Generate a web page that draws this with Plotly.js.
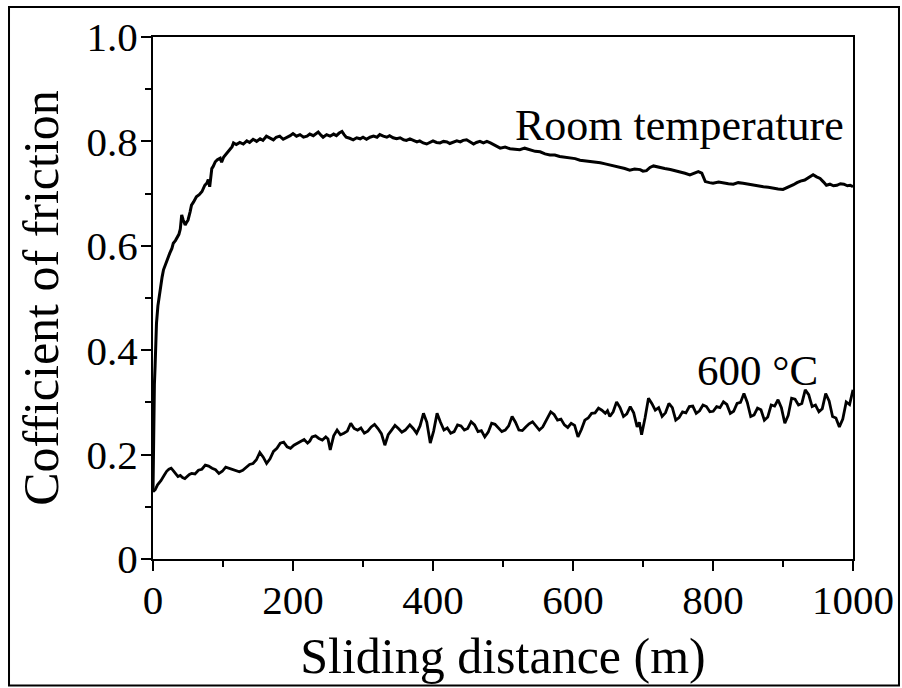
<!DOCTYPE html>
<html>
<head>
<meta charset="utf-8">
<script src="https://cdn.plot.ly/plotly-3.0.1.min.js"></script>
<style>
html,body{margin:0;padding:0;background:#fff;}
#chart{width:902px;height:688px;}
</style>
</head>
<body>
<div id="chart"></div>
<script>
// Room temperature series (sliding distance in m, coefficient of friction)
const rtDistance = [0,1,2,3,4,5,7,10,13,15,18,20,22,24,27,29,32,34,37,39,41,43,46,48,50,53,55,58,62,66,70,74,77,79,81,84,86,89,92,96,98,101,105,108,110,113,115,119,124,129,134,138,143,148,153,157,162,167,172,176,181,186,191,196,200,205,210,215,220,224,229,233,236,240,243,248,253,258,262,266,270,273,276,281,286,291,296,300,305,310,315,320,324,329,334,338,343,348,353,358,362,367,372,377,381,386,391,396,400,405,410,415,420,424,429,434,439,443,448,453,458,462,467,472,477,482,487,491,496,503,510,517,524,531,539,546,553,560,567,574,581,588,596,603,610,617,624,631,639,646,653,660,667,674,681,688,696,700,705,710,715,720,724,731,739,746,753,760,767,773,779,784,787,789,795,800,808,815,822,829,836,843,850,858,865,872,879,886,893,900,905,910,915,920,925,931,937,943,948,953,958,962,967,972,977,982,987,992,996,1000];
const rtCof = [0.130,0.280,0.335,0.370,0.420,0.452,0.485,0.515,0.540,0.554,0.566,0.573,0.578,0.586,0.595,0.605,0.610,0.615,0.622,0.632,0.659,0.650,0.640,0.645,0.649,0.665,0.678,0.684,0.694,0.698,0.704,0.716,0.720,0.727,0.713,0.748,0.752,0.761,0.765,0.768,0.760,0.770,0.777,0.780,0.784,0.790,0.797,0.794,0.798,0.795,0.801,0.798,0.804,0.800,0.805,0.802,0.810,0.806,0.803,0.808,0.810,0.804,0.807,0.811,0.815,0.810,0.813,0.808,0.810,0.814,0.811,0.816,0.818,0.812,0.808,0.813,0.810,0.814,0.811,0.816,0.819,0.813,0.808,0.806,0.803,0.807,0.805,0.808,0.804,0.808,0.810,0.808,0.813,0.810,0.808,0.811,0.807,0.805,0.807,0.803,0.802,0.805,0.802,0.799,0.801,0.797,0.795,0.799,0.801,0.798,0.797,0.800,0.799,0.796,0.798,0.801,0.799,0.802,0.803,0.799,0.795,0.798,0.800,0.797,0.800,0.797,0.793,0.790,0.787,0.789,0.786,0.785,0.784,0.787,0.783,0.781,0.780,0.776,0.774,0.774,0.771,0.770,0.768,0.767,0.764,0.763,0.761,0.761,0.759,0.757,0.755,0.752,0.750,0.748,0.745,0.747,0.746,0.743,0.744,0.750,0.753,0.751,0.750,0.748,0.746,0.744,0.742,0.739,0.736,0.739,0.742,0.739,0.730,0.723,0.721,0.720,0.722,0.720,0.719,0.718,0.721,0.720,0.718,0.716,0.715,0.713,0.712,0.710,0.709,0.708,0.711,0.713,0.717,0.721,0.724,0.726,0.731,0.736,0.732,0.729,0.722,0.716,0.718,0.715,0.716,0.719,0.718,0.715,0.716,0.713];

// 600 °C series
const hotDistance = [0,3.2,6.5,11.3,16.2,19.5,22.7,26,29.2,32.5,35.7,39,42.2,45.5,48.7,52,55.2,60,64.9,69.8,74.7,79.5,84.4,89.3,94.2,99,103.9,108.8,113.6,118.5,123.4,128.2,133.1,138,142.9,147.7,152.6,157.5,162.3,167.2,172.1,177,181.8,186.7,191.6,196.4,201.3,206.1,211,215.9,220.8,224,227.3,232.1,237,241.9,246.8,250,253.2,258.1,263,267.8,272.7,277.6,282.5,287.3,292.2,297,301.9,306.8,311.7,316.5,321.4,326.3,331.2,336,340.9,345.7,350.6,355.5,360.4,363.6,366.9,371.7,376.6,381.5,386.4,391.2,396.1,400.9,405.8,410.7,415.6,420.4,425.3,430.2,435.1,440,444.8,449.6,454.5,459.4,464.3,469.1,474,478.9,483.8,488.6,493.5,498.3,503.2,508.1,513,517.8,522.7,527.6,532.5,537.3,542.2,547,551.9,556.8,561.7,565,568.2,573,577.9,582.8,587.7,592.5,597.4,602.3,607.1,612,616.9,621.7,626.6,631.5,636.4,641.2,646.1,649.3,652.6,657.4,662.3,667.2,672.1,676.9,681.8,686.7,691.6,694.8,698,702.9,707.8,712.6,717.5,722.4,727.3,732.1,737,741.9,746.8,751.6,756.5,761.3,766.2,771.1,776,780.8,785.7,790.6,795.5,800.3,805.2,810,814.9,819.8,824.7,829.5,834.4,839.3,844.2,849,853.9,858.7,863.6,868.5,873.4,878.2,883.1,888,892.9,897.7,902.6,907.4,912.3,917.2,922.1,926.9,931.8,936.7,941.6,946.4,951.3,956.1,961,965.9,970.8,975.6,980.5,985.4,990.3,995.1,1000];
const hotCof = [0.129,0.133,0.142,0.150,0.161,0.168,0.172,0.174,0.169,0.163,0.158,0.160,0.156,0.154,0.159,0.162,0.164,0.163,0.170,0.172,0.180,0.178,0.174,0.171,0.164,0.168,0.176,0.174,0.172,0.170,0.167,0.170,0.176,0.181,0.183,0.190,0.204,0.195,0.183,0.192,0.206,0.212,0.222,0.224,0.215,0.212,0.218,0.222,0.225,0.229,0.222,0.226,0.234,0.236,0.231,0.228,0.234,0.230,0.209,0.236,0.247,0.238,0.241,0.245,0.260,0.250,0.247,0.251,0.241,0.245,0.253,0.258,0.250,0.240,0.218,0.238,0.247,0.256,0.250,0.243,0.247,0.252,0.257,0.250,0.241,0.255,0.279,0.262,0.222,0.245,0.279,0.262,0.247,0.251,0.241,0.244,0.257,0.255,0.247,0.250,0.263,0.257,0.244,0.246,0.234,0.243,0.260,0.258,0.250,0.244,0.247,0.255,0.273,0.262,0.247,0.246,0.253,0.259,0.263,0.256,0.247,0.253,0.266,0.275,0.282,0.277,0.266,0.268,0.257,0.252,0.260,0.256,0.234,0.248,0.266,0.270,0.279,0.280,0.289,0.285,0.279,0.284,0.273,0.282,0.301,0.290,0.273,0.278,0.292,0.280,0.253,0.262,0.238,0.270,0.308,0.298,0.285,0.290,0.273,0.280,0.298,0.290,0.266,0.271,0.282,0.280,0.292,0.293,0.279,0.284,0.295,0.292,0.282,0.283,0.292,0.290,0.301,0.296,0.279,0.283,0.298,0.300,0.317,0.300,0.273,0.276,0.289,0.286,0.266,0.272,0.295,0.293,0.305,0.290,0.260,0.275,0.308,0.306,0.295,0.298,0.324,0.315,0.292,0.295,0.282,0.288,0.317,0.303,0.273,0.270,0.253,0.268,0.301,0.296,0.324];

const xTickVals = [0,200,400,600,800,1000];
const xTickText = ['0','200','400','600','800','1000'];
const yTickVals = [0,0.2,0.4,0.6,0.8,1.0];
const yTickText = ['0','0.2','0.4','0.6','0.8','1.0'];

const FONT = 'Liberation Serif';
const traces = [
  {x: rtDistance, y: rtCof, type: 'scatter', mode: 'lines', name: 'Room temperature',
   line: {color: '#000', width: 3}, showlegend: false},
  {x: hotDistance, y: hotCof, type: 'scatter', mode: 'lines', name: '600 °C',
   line: {color: '#000', width: 2.8}, showlegend: false}
];
const axisCommon = {
  showgrid: false, zeroline: false, showline: true, linecolor: '#000', linewidth: 2,
  mirror: true, ticks: 'outside', ticklen: 10, tickwidth: 2, tickcolor: '#000',
  automargin: false
};
const layout = {
  width: 902, height: 688,
  margin: {l: 153, r: 49, t: 37, b: 129},
  paper_bgcolor: '#fff', plot_bgcolor: '#fff',
  font: {family: FONT, color: '#000'},
  showlegend: false,
  xaxis: Object.assign({}, axisCommon, {
    range: [0, 1000], tickvals: xTickVals, ticktext: xTickText,
    tickfont: {family: FONT, size: 41, color: '#000'}, ticklabelstandoff: -6,
    minor: {dtick: 100, tick0: 0, ticks: 'outside', ticklen: 6, tickwidth: 2, tickcolor: '#000', showgrid: false},
    title: {text: 'Sliding distance (m)', font: {family: FONT, size: 50, color: '#000'}, standoff: 16}
  }),
  yaxis: Object.assign({}, axisCommon, {
    range: [0, 1], tickvals: yTickVals, ticktext: yTickText,
    tickfont: {family: FONT, size: 41, color: '#000'}, ticklabelstandoff: -5,
    minor: {dtick: 0.1, tick0: 0, ticks: 'outside', ticklen: 6, tickwidth: 2, tickcolor: '#000', showgrid: false},
    title: {text: 'Cofficient of friction', font: {family: FONT, size: 50, color: '#000'}, standoff: 12}
  }),
  annotations: [
    {text: 'Room temperature', x: 989.5, y: 0.831, xref: 'x', yref: 'y', xanchor: 'right', yanchor: 'middle',
     showarrow: false, font: {family: FONT, size: 44, color: '#000'}},
    {text: '600 °C', x: 953, y: 0.361, xref: 'x', yref: 'y', xanchor: 'right', yanchor: 'middle',
     showarrow: false, font: {family: FONT, size: 43, color: '#000'}}
  ],
  shapes: [
    {type: 'rect', xref: 'paper', yref: 'paper', x0: -0.2057, x1: 1.0657, y0: -0.2423, y1: 1.0575,
     line: {color: '#000', width: 2}, fillcolor: 'rgba(0,0,0,0)', layer: 'below'}
  ]
};
Plotly.newPlot('chart', traces, layout, {displayModeBar: false, staticPlot: true});
</script>
</body>
</html>
